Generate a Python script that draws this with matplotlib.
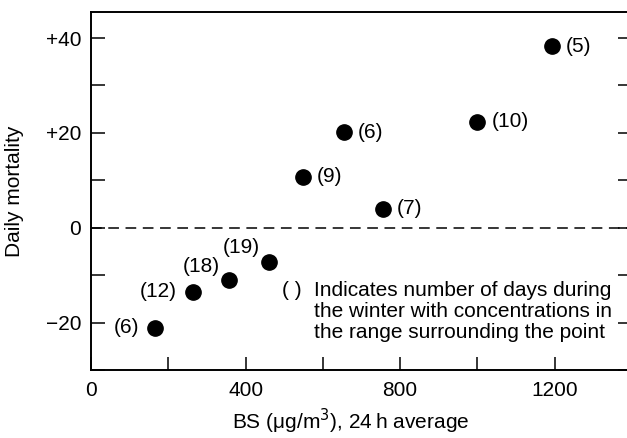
import matplotlib
matplotlib.use("Agg")
import matplotlib.pyplot as plt
from matplotlib.ticker import MultipleLocator, FixedLocator, FixedFormatter

plt.rcParams['font.family'] = ['Liberation Sans', 'DejaVu Sans']

# Mean BS concentration of each band and the excess daily mortality
bs_conc = [166, 263, 358, 460, 548, 655, 756, 1000, 1193]
mortality = [-21.2, -13.6, -11.1, -7.2, 10.8, 20.1, 4.0, 22.4, 38.3]
n_days = [6, 12, 18, 19, 9, 6, 7, 10, 5]
# where each day-count label sits relative to its point
label_side = ['left', 'left', 'upleft', 'upleft', 'right', 'right', 'right', 'right', 'right']

x_major = [0, 400, 800, 1200]
x_major_labels = ['0', '400', '800', '1200']
y_major = [-20, 0, 20, 40]
y_major_labels = ['\u221220', '0', '+20', '+40']

fig = plt.figure(figsize=(6.27, 4.38), dpi=100)
ax = fig.add_axes([91 / 627, 1 - 370 / 438, (632 - 91) / 627, (370 - 12) / 438])

ax.set_xlim(0, 1400)
ax.set_ylim(-30, 45.5)

fs = 15
ax.axhline(0, color='black', lw=1.1, dashes=(7, 4.3))
ax.plot(bs_conc, mortality, 'o', color='black', ms=11, zorder=3)

for x, y, n, side in zip(bs_conc, mortality, n_days, label_side):
    if side == 'right':
        off, ha = (10, 0), 'left'
    elif side == 'left':
        off, ha = (-11.5, 0.5), 'right'
    else:
        off, ha = (-6.5, 10), 'right'
    ax.annotate(f'({n})', (x, y), xytext=off, textcoords='offset points',
                ha=ha, va='center', fontsize=fs)

ax.xaxis.set_major_locator(FixedLocator(x_major))
ax.xaxis.set_major_formatter(FixedFormatter(x_major_labels))
ax.xaxis.set_minor_locator(MultipleLocator(200))
ax.yaxis.set_major_locator(FixedLocator(y_major))
ax.yaxis.set_major_formatter(FixedFormatter(y_major_labels))
ax.yaxis.set_minor_locator(MultipleLocator(10))

ax.tick_params(axis='both', which='both', direction='in', width=1.1,
               labelsize=fs, right=True)
ax.tick_params(axis='x', which='both', length=9.5, pad=8)
ax.tick_params(axis='y', which='both', length=10, pad=7)
for s in ax.spines.values():
    s.set_linewidth(1.4)

# explanatory note
note_lines = ['Indicates number of days during',
              'the winter with concentrations in',
              'the range surrounding the point']
ax_w, ax_h = 632 - 91, 370 - 12
ax.text((281.7 - 91) / ax_w, (370 - 290.7) / ax_h, '( )', transform=ax.transAxes,
        ha='left', va='center', fontsize=fs)
for i, line in enumerate(note_lines):
    ax.text((314 - 91) / ax_w, (370 - 290.7 - 21 * i) / ax_h, line,
            transform=ax.transAxes, ha='left', va='center', fontsize=fs)

fig.text(15 / 627, 1 - 191 / 438, 'Daily mortality', rotation=90,
         ha='center', va='center', fontsize=fs)
fig.text(351 / 627, 1 - 429 / 438, 'BS (\u03bcg/m$^3$), 24\u2009h average',
         ha='center', va='baseline', fontsize=fs)

fig.savefig('out.png', dpi=100)
